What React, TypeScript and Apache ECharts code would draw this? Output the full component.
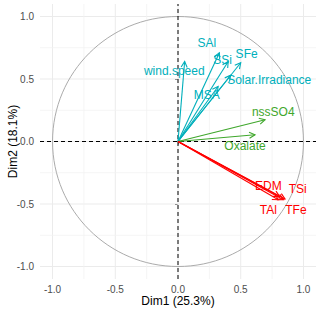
import React, { useEffect, useRef } from "react";
import * as echarts from "echarts";

const varNames = ["wind.speed", "SAl", "SSi", "SFe", "Solar.Irradiance", "MSA", "nssSO4", "Oxalate", "EDM", "TSi", "TAl", "TFe"];
const dim1 = [0.053, 0.33, 0.4, 0.5, 0.42, 0.32, 0.694, 0.614, 0.81, 0.853, 0.8, 0.84];
const dim2 = [0.64, 0.71, 0.64, 0.63, 0.53, 0.44, 0.174, 0.054, -0.44, -0.46, -0.466, -0.466];
const groupOf = [0, 0, 0, 0, 0, 0, 1, 1, 2, 2, 2, 2];
const groupColors = ["#00AFBB", "#3FA72C", "#FF0000"];
const labelX = [-0.03, 0.229, 0.356, 0.547, 0.727, 0.229, 0.759, 0.534, 0.72, 0.954, 0.72, 0.94];
const labelY = [0.566, 0.787, 0.654, 0.7, 0.494, 0.374, 0.235, -0.034, -0.352, -0.381, -0.546, -0.546];
const majorTicks = [-1, -0.5, 0, 0.5, 1];
const minorTicks = [-0.75, -0.25, 0.25, 0.75];
const axisMin = -1.1;
const axisMax = 1.1;
const xTitle = "Dim1 (25.3%)";
const yTitle = "Dim2 (18.1%)";

const FONT = '"Liberation Sans", Arial, sans-serif';

export default function App() {
  const ref = useRef<HTMLDivElement>(null);
  useEffect(() => {
    if (!ref.current) return;
    const chart = echarts.init(ref.current, undefined, { renderer: "svg" });

    const gridData = [
      ...majorTicks.map((v) => [v, 0, 1]),
      ...minorTicks.map((v) => [v, 0, 0]),
    ];

    const option: any = {
      animation: false,
      backgroundColor: "#ffffff",
      grid: { left: 40, right: 4, top: 4, bottom: 34, containLabel: false, outerBoundsMode: "none" },
      xAxis: {
        type: "value",
        min: axisMin,
        max: axisMax,
        name: xTitle,
        nameLocation: "middle",
        nameGap: 22,
        nameMoveOverlap: false,
        nameTextStyle: { color: "#000000", fontSize: 12, fontFamily: FONT, verticalAlign: "middle" },
        axisLine: { show: false },
        axisTick: { show: true, customValues: majorTicks, length: 3, lineStyle: { color: "#333333", width: 1 } },
        axisLabel: {
          customValues: majorTicks,
          formatter: (v: number) => v.toFixed(1),
          color: "#4D4D4D",
          fontSize: 10,
          fontFamily: FONT,
          margin: 5,
        },
        splitLine: { show: false },
      },
      yAxis: {
        type: "value",
        min: axisMin,
        max: axisMax,
        name: yTitle,
        nameLocation: "middle",
        nameGap: 21.5,
        nameMoveOverlap: false,
        nameTextStyle: { color: "#000000", fontSize: 12, fontFamily: FONT },
        axisLine: { show: false },
        axisTick: { show: true, customValues: majorTicks, length: 3, lineStyle: { color: "#333333", width: 1 } },
        axisLabel: {
          customValues: majorTicks,
          formatter: (v: number) => v.toFixed(1),
          color: "#4D4D4D",
          fontSize: 10,
          fontFamily: FONT,
          margin: 6,
        },
        splitLine: { show: false },
      },
      series: [
        {
          type: "custom",
          silent: true,
          clip: false,
          data: gridData,
          renderItem: (params: any, api: any) => {
            const v = api.value(0);
            const major = api.value(2) === 1;
            const a = api.coord([v, axisMin]);
            const b = api.coord([v, axisMax]);
            const c = api.coord([axisMin, v]);
            const d = api.coord([axisMax, v]);
            const style = { stroke: major ? "#EBEBEB" : "#F3F3F3", lineWidth: major ? 1 : 0.8 };
            return {
              type: "group",
              children: [
                { type: "line", shape: { x1: a[0], y1: a[1], x2: b[0], y2: b[1] }, style },
                { type: "line", shape: { x1: c[0], y1: c[1], x2: d[0], y2: d[1] }, style },
              ],
            };
          },
        },
        {
          type: "custom",
          silent: true,
          clip: false,
          data: [[0, 0, 1]],
          renderItem: (params: any, api: any) => {
            const c = api.coord([0, 0]);
            const r = api.value(2);
            const px = api.coord([r, 0]);
            const py = api.coord([0, r]);
            return {
              type: "ellipse",
              shape: { cx: c[0], cy: c[1], rx: px[0] - c[0], ry: c[1] - py[1] },
              style: { stroke: "#ABABAB", fill: "none", lineWidth: 1 },
            };
          },
        },
        {
          type: "custom",
          silent: true,
          clip: false,
          data: [[0, 0]],
          renderItem: (params: any, api: any) => {
            const a = api.coord([0, axisMin]);
            const b = api.coord([0, axisMax]);
            const c = api.coord([axisMin, 0]);
            const d = api.coord([axisMax, 0]);
            const style = { stroke: "#000000", lineWidth: 1, lineDash: [4, 3] };
            return {
              type: "group",
              children: [
                { type: "line", shape: { x1: a[0], y1: a[1], x2: b[0], y2: b[1] }, style },
                { type: "line", shape: { x1: c[0], y1: c[1], x2: d[0], y2: d[1] }, style },
              ],
            };
          },
        },
        {
          type: "custom",
          silent: true,
          clip: false,
          data: dim1.map((x, i) => [x, dim2[i], groupOf[i]]),
          renderItem: (params: any, api: any) => {
            const x = api.value(0);
            const y = api.value(1);
            const color = groupColors[api.value(2)];
            const p0 = api.coord([0, 0]);
            const p1 = api.coord([x, y]);
            const ang = Math.atan2(p1[1] - p0[1], p1[0] - p0[0]);
            const L = 6.5;
            const a = Math.PI / 6.5;
            const h1 = [p1[0] - L * Math.cos(ang - a), p1[1] - L * Math.sin(ang - a)];
            const h2 = [p1[0] - L * Math.cos(ang + a), p1[1] - L * Math.sin(ang + a)];
            const style = { stroke: color, lineWidth: 1.1, fill: "none" };
            return {
              type: "group",
              children: [
                { type: "line", shape: { x1: p0[0], y1: p0[1], x2: p1[0], y2: p1[1] }, style },
                { type: "polyline", shape: { points: [h1, p1, h2] }, style },
              ],
            };
          },
        },
        {
          type: "custom",
          silent: true,
          clip: false,
          data: labelX.map((x, i) => [x, labelY[i], groupOf[i]]),
          renderItem: (params: any, api: any) => {
            const p = api.coord([api.value(0), api.value(1)]);
            const color = groupColors[api.value(2)];
            return {
              type: "text",
              x: p[0],
              y: p[1],
              style: {
                text: varNames[params.dataIndex],
                fill: color,
                font: '12px "Liberation Sans", Arial, sans-serif',
                align: "center",
                verticalAlign: "middle",
              },
            };
          },
        },
      ],
    };
    chart.setOption(option);
    return () => chart.dispose();
  }, []);
  return <div ref={ref} style={{ position: "fixed", left: 0, top: 0, width: 320, height: 313 }} />;
}
